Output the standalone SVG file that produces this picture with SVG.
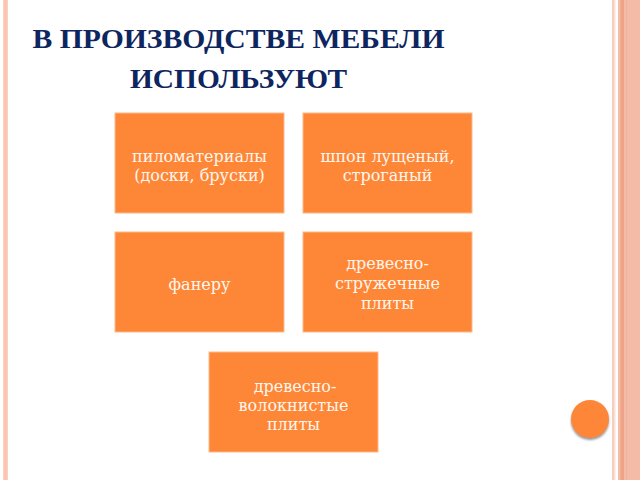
<svg xmlns="http://www.w3.org/2000/svg" width="640" height="480" viewBox="0 0 640 480">
<defs>
<style>
.box{fill:#FE8637;stroke:#FDB98A;stroke-width:1}
.t{font-family:"DejaVu Serif","Liberation Serif",serif;font-size:16px;fill:#FFF6EE;text-anchor:middle}
.title{font-family:"Liberation Serif","DejaVu Serif",serif;font-weight:bold;font-size:28px;fill:#0E2660;text-anchor:middle}
</style>
<filter id="sh" x="-30%" y="-30%" width="160%" height="160%">
<feDropShadow dx="0" dy="2" stdDeviation="1.2" flood-color="#6b6b6b" flood-opacity="0.7"/>
</filter>
</defs>
<rect x="0" y="0" width="640" height="480" fill="#FFFFFF"/>
<g id="borders">
<rect x="3" y="0" width="5" height="480" fill="#FDCFBF"/>
<rect x="4.5" y="0" width="2" height="480" fill="#FCC2AE"/>
<rect x="612" y="0" width="2" height="480" fill="#F9CDBD"/>
<rect x="614" y="0" width="1.5" height="480" fill="#FCE0D6"/>
<rect x="618" y="0" width="22" height="480" fill="#F4BBA6"/>
<rect x="620.5" y="0" width="3.5" height="480" fill="#EFA386"/>
<rect x="626" y="0" width="1" height="480" fill="#F2B29C"/>
</g>
<g id="title">
<text class="title" x="238.5" y="48" textLength="412" lengthAdjust="spacingAndGlyphs">В ПРОИЗВОДСТВЕ МЕБЕЛИ</text>
<text class="title" x="238.5" y="88" textLength="217" lengthAdjust="spacingAndGlyphs">ИСПОЛЬЗУЮТ</text>
</g>
<g id="n1">
<rect class="box" x="115" y="113" width="169" height="100"/>
<text class="t" x="199.5" y="162">пиломатериалы</text>
<text class="t" x="199.5" y="181">(доски, бруски)</text>
</g>
<g id="n2">
<rect class="box" x="303" y="113" width="169" height="100"/>
<text class="t" x="387.5" y="162">шпон лущеный,</text>
<text class="t" x="387.5" y="181">строганый</text>
</g>
<g id="n3">
<rect class="box" x="115" y="232" width="169" height="100"/>
<text class="t" x="199.5" y="290">фанеру</text>
</g>
<g id="n4">
<rect class="box" x="303" y="232" width="169" height="100"/>
<text class="t" x="387.5" y="269">древесно-</text>
<text class="t" x="387.5" y="289">стружечные</text>
<text class="t" x="387.5" y="309">плиты</text>
</g>
<g id="n5">
<rect class="box" x="209" y="352" width="169" height="100"/>
<text class="t" x="295" y="392">древесно-</text>
<text class="t" x="293.5" y="411">волокнистые</text>
<text class="t" x="293.5" y="430">плиты</text>
</g>
<g id="connectors"></g>
<g id="deco">
<circle cx="590" cy="419" r="19" fill="#FE8637" filter="url(#sh)"/>
</g>
</svg>
